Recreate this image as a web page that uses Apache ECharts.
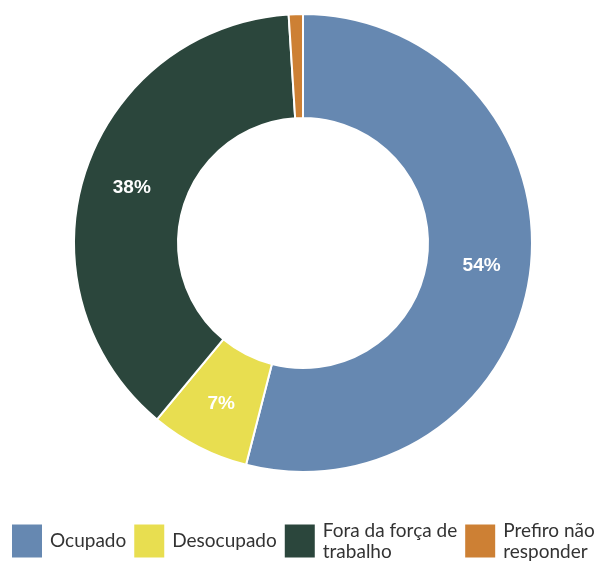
<!DOCTYPE html>
<html>
<head>
<meta charset="utf-8">
<script src="https://cdn.jsdelivr.net/npm/echarts@6/dist/echarts.min.js"></script>
<style>
  html, body { margin: 0; padding: 0; background: #fff; }
  #main { width: 608px; height: 565px; }
</style>
</head>
<body>
<div id="main"></div>
<script>
const categories = ['Ocupado', 'Desocupado', 'Fora da força de trabalho', 'Prefiro não responder']
const legendLabels = ['Ocupado', 'Desocupado', 'Fora da força de\ntrabalho', 'Prefiro não\nresponder']
const values = [54, 7, 38, 1]
const colors = ['#6688B1', '#E8DE50', '#2B463C', '#CD8034']

window.addEventListener('load', () => {
    const chart = echarts.init(document.getElementById('main'))

    const data = categories.map((name, i) => ({
        name,
        value: values[i],
        itemStyle: { color: colors[i] },
        label: { show: values[i] >= 5 }
    }))

    const option = {
        animation: false,
        legend: {
            left: 10,
            top: 520,
            padding: 0,
            icon: 'rect',
            itemWidth: 32,
            itemHeight: 35,
            itemGap: 6,
            selectedMode: false,
            formatter: name => legendLabels[categories.indexOf(name)],
            textStyle: {
                fontFamily: 'Lato',
                fontSize: 19,
                lineHeight: 21,
                color: '#333',
                padding: [0, 0, 0, 2]
            }
        },
        series: [{
            type: 'pie',
            center: [303, 243],
            radius: [125, 229],
            startAngle: 90,
            clockwise: true,
            itemStyle: { borderColor: '#fff', borderWidth: 2 },
            label: {
                position: 'inside',
                formatter: '{c}%',
                color: '#fff',
                fontWeight: 'bold',
                fontSize: 19,
                fontFamily: 'Liberation Sans'
            },
            labelLine: { show: false },
            emphasis: { disabled: true },
            data
        }]
    }
    chart.setOption(option)
})
</script>
</body>
</html>
